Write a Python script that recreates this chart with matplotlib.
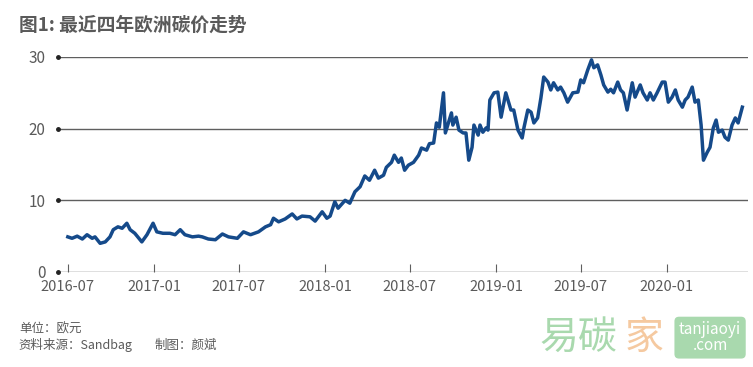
import matplotlib.pyplot as plt
import matplotlib.dates as mdates
import pandas as pd

plt.rcParams['font.family'] = ['Noto Sans CJK SC', 'DejaVu Sans']

dates = [
    "2016-07-01", "2016-07-10", "2016-07-21", "2016-08-01", "2016-08-11", "2016-08-22",
    "2016-08-28", "2016-09-08", "2016-09-19", "2016-09-29", "2016-10-06", "2016-10-16",
    "2016-10-25", "2016-11-04", "2016-11-11", "2016-11-21", "2016-12-06", "2016-12-17",
    "2016-12-30", "2017-01-07", "2017-01-20", "2017-02-04", "2017-02-15", "2017-02-26",
    "2017-03-08", "2017-03-24", "2017-04-06", "2017-04-14", "2017-04-27", "2017-05-12",
    "2017-05-27", "2017-06-09", "2017-06-28", "2017-07-11", "2017-07-26", "2017-08-12",
    "2017-08-27", "2017-09-07", "2017-09-13", "2017-09-24", "2017-10-08", "2017-10-23",
    "2017-11-02", "2017-11-13", "2017-11-30", "2017-12-11", "2017-12-26", "2018-01-05",
    "2018-01-12", "2018-01-22", "2018-01-29", "2018-02-13", "2018-02-23", "2018-03-06",
    "2018-03-17", "2018-03-27", "2018-04-06", "2018-04-17", "2018-04-25", "2018-05-06",
    "2018-05-12", "2018-05-23", "2018-05-29", "2018-06-07", "2018-06-13", "2018-06-20",
    "2018-06-28", "2018-07-09", "2018-07-20", "2018-07-26", "2018-08-06", "2018-08-12",
    "2018-08-21", "2018-08-27", "2018-09-02", "2018-09-11", "2018-09-15", "2018-09-22",
    "2018-09-28", "2018-10-01", "2018-10-08", "2018-10-14", "2018-10-23", "2018-10-29",
    "2018-11-04", "2018-11-11", "2018-11-15", "2018-11-24", "2018-11-28", "2018-12-04",
    "2018-12-11", "2018-12-15", "2018-12-19", "2018-12-28", "2019-01-05", "2019-01-12",
    "2019-01-22", "2019-02-02", "2019-02-08", "2019-02-17", "2019-02-26", "2019-03-02",
    "2019-03-10", "2019-03-17", "2019-03-23", "2019-03-31", "2019-04-07", "2019-04-13",
    "2019-04-22", "2019-04-28", "2019-05-04", "2019-05-13", "2019-05-19", "2019-05-26",
    "2019-06-03", "2019-06-14", "2019-06-25", "2019-07-01", "2019-07-07", "2019-07-16",
    "2019-07-24", "2019-07-29", "2019-08-06", "2019-08-13", "2019-08-19", "2019-08-28",
    "2019-09-03", "2019-09-09", "2019-09-18", "2019-09-24", "2019-09-30", "2019-10-08",
    "2019-10-19", "2019-10-25", "2019-11-05", "2019-11-11", "2019-11-20", "2019-11-26",
    "2019-12-03", "2019-12-11", "2019-12-22", "2019-12-28", "2020-01-04", "2020-01-12",
    "2020-01-19", "2020-01-25", "2020-02-03", "2020-02-09", "2020-02-15", "2020-02-24",
    "2020-03-01", "2020-03-08", "2020-03-14", "2020-03-19", "2020-03-27", "2020-04-02",
    "2020-04-09", "2020-04-15", "2020-04-20", "2020-04-28", "2020-05-04", "2020-05-11",
    "2020-05-19", "2020-05-26", "2020-06-01", "2020-06-10",
]
prices = [
    4.9, 4.7, 5.0, 4.6, 5.2, 4.7,
    4.9, 4.0, 4.2, 4.9, 5.9, 6.3,
    6.1, 6.8, 5.9, 5.4, 4.2, 5.2,
    6.8, 5.6, 5.4, 5.4, 5.2, 5.9,
    5.2, 4.9, 5.0, 4.9, 4.6, 4.5,
    5.3, 4.9, 4.7, 5.6, 5.2, 5.6,
    6.3, 6.6, 7.5, 7.0, 7.4, 8.1,
    7.4, 7.8, 7.7, 7.1, 8.4, 7.5,
    7.8, 9.8, 8.9, 10.0, 9.6, 11.2,
    11.9, 13.4, 12.8, 14.2, 13.1, 13.5,
    14.6, 15.3, 16.3, 15.3, 15.9, 14.2,
    14.9, 15.3, 16.3, 17.3, 17.0, 17.9,
    18.0, 20.8, 20.2, 25.0, 19.4, 20.9,
    22.2, 20.5, 21.6, 19.8, 19.4, 19.4,
    15.6, 17.4, 20.5, 19.1, 20.5, 19.5,
    20.1, 19.8, 24.0, 25.0, 25.1, 21.6,
    25.0, 22.6, 22.6, 19.8, 18.7, 20.2,
    22.6, 22.3, 20.8, 21.5, 24.3, 27.2,
    26.5, 25.4, 26.4, 25.4, 25.8, 25.0,
    23.7, 25.0, 25.1, 26.8, 26.4, 28.2,
    29.6, 28.5, 28.9, 27.5, 26.1, 25.1,
    25.5, 25.0, 26.5, 25.4, 25.0, 22.6,
    26.4, 24.4, 26.1, 25.0, 24.0, 25.0,
    24.0, 25.0, 26.5, 26.5, 23.7, 24.4,
    25.4, 24.0, 23.0, 24.0, 24.4, 25.8,
    23.7, 24.0, 20.5, 15.6, 16.7, 17.4,
    20.1, 21.2, 19.5, 19.8, 18.8, 18.4,
    20.5, 21.5, 20.8, 23.0,
]
tick_labels = ["2016-07", "2017-01", "2017-07", "2018-01",
               "2018-07", "2019-01", "2019-07", "2020-01"]
y_ticks = [0, 10, 20, 30]

x = pd.to_datetime(dates)
text_gray = '#5a5a5a'
line_gray = '#5f5f5f'

fig = plt.figure(figsize=(7.53, 3.67), dpi=100)
ax = fig.add_axes([0.077, 0.2589, 0.9163, 0.5858])

ax.plot(x, prices, color='#154a8a', lw=2.5, solid_joinstyle='round')

x0 = pd.Timestamp('2016-06-10')
x1 = pd.Timestamp('2020-06-22')
ax.set_xlim(x0, x1)
ax.set_ylim(0, 30)

for v in y_ticks:
    ax.axhline(v, color=line_gray, lw=1.0, zorder=0)
ax.plot([x0] * len(y_ticks), y_ticks, 'o', color='#222222', ms=2.5,
        clip_on=False, zorder=3)

for s in ax.spines.values():
    s.set_visible(False)

ax.set_yticks(y_ticks)
ax.tick_params(axis='y', length=0, pad=9, labelsize=11, labelcolor=text_gray)

ax.set_xticks(pd.to_datetime([t + "-01" for t in tick_labels]))
ax.set_xticklabels(tick_labels)
ax.tick_params(axis='x', direction='in', length=6, width=0.8, color=line_gray,
               pad=6, labelsize=10.5, labelcolor=text_gray)

fig.text(0.025, 0.93, '图1: 最近四年欧洲碳价走势', fontsize=13.5, fontweight='bold',
         color=text_gray, va='center', ha='left')

fig.text(0.025, 0.104, '单位：欧元', fontsize=9, style='italic',
         color=text_gray, va='center', ha='left')
fig.text(0.025, 0.06, '资料来源：Sandbag', fontsize=9, style='italic',
         color=text_gray, va='center', ha='left')
fig.text(0.205, 0.06, '制图：颜斌', fontsize=9, style='italic',
         color=text_gray, va='center', ha='left')

# watermark
fig.text(0.716, 0.08, '易碳', fontsize=28, color='#a9d9ae', va='center', ha='left')
fig.text(0.83, 0.08, '家', fontsize=28, color='#f5c9a0', va='center', ha='left')
fig.text(0.943, 0.08, 'tanjiaoyi\n.com', fontsize=11, color='white', style='italic',
         va='center', ha='center', linespacing=0.9,
         bbox=dict(boxstyle='round,pad=0.3', fc='#a9d9ae', ec='none'))

fig.savefig('out.png', dpi=100)
